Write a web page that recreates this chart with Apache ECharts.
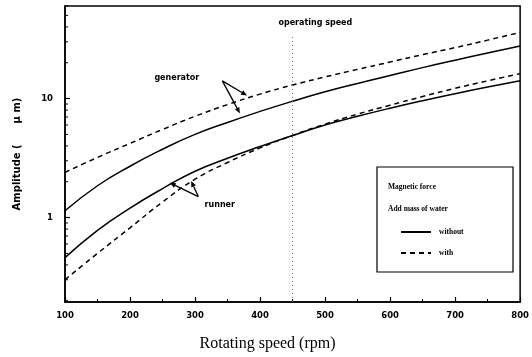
<!DOCTYPE html>
<html>
<head>
<meta charset="utf-8">
<script src="https://cdn.jsdelivr.net/npm/echarts@6/dist/echarts.min.js"></script>
<style>
html, body { margin: 0; padding: 0; background: #fff; }
#chart { width: 532px; height: 357px; }
</style>
</head>
<body>
<div id="chart"></div>
<script>
// rotating speed (rpm)
var speeds = [100, 150, 200, 250, 300, 350, 400, 450, 500, 550, 600, 650, 700, 750, 800];
// amplitude (um), magnetic force, without / with added mass of water
var generatorWithout = [1.14, 1.85, 2.7, 3.75, 5.0, 6.3, 7.8, 9.5, 11.4, 13.4, 15.6, 18.2, 21, 24.2, 27.7];
var generatorWith    = [2.4, 3.2, 4.2, 5.5, 7.1, 8.9, 10.9, 13.0, 15.2, 17.6, 20.3, 23.4, 26.8, 31, 36];
var runnerWithout    = [0.46, 0.78, 1.2, 1.75, 2.45, 3.15, 3.95, 4.9, 6.0, 7.1, 8.3, 9.6, 11, 12.5, 14.1];
var runnerWith       = [0.3, 0.5, 0.82, 1.35, 2.1, 2.9, 3.85, 4.9, 6.1, 7.4, 8.8, 10.4, 12.2, 14.1, 16.2];
var operatingSpeed = 450;
var yMinor = [0.2, 0.3, 0.4, 0.5, 0.6, 0.7, 0.8, 0.9, 2, 3, 4, 5, 6, 7, 8, 9, 20, 30, 40, 50, 60];

function pairs(ys) {
    return speeds.map(function (x, i) { return [x, ys[i]]; });
}

var chart = echarts.init(document.getElementById('chart'));
var labelFont = {color: '#000', fontFamily: 'DejaVu Sans', fontWeight: 'bold', fontSize: 8.5};

function lineSeries(name, ys, dashed) {
    return {
        name: name,
        type: 'line',
        data: pairs(ys),
        smooth: true,
        symbol: 'none',
        silent: true,
        itemStyle: {color: '#000'},
        lineStyle: {color: '#000', width: 1.5, type: dashed ? [5, 4] : 'solid'}
    };
}

var series = [
    lineSeries('without', generatorWithout, false),
    lineSeries('with', generatorWith, true),
    lineSeries('without', runnerWithout, false),
    lineSeries('with', runnerWith, true)
];
series[0].markLine = {
    silent: true,
    symbol: 'none',
    label: {show: false},
    lineStyle: {color: '#666', type: [1, 3], width: 1},
    data: [[{coord: [operatingSpeed, 33]}, {coord: [operatingSpeed, 0.195]}]]
};

chart.setOption({
    animation: false,
    backgroundColor: '#fff',
    grid: {left: 65, right: 8, top: 6, bottom: 52, show: true, borderColor: '#000', borderWidth: 1.5},
    legend: {
        data: ['without', 'with'],
        orient: 'vertical',
        left: 400,
        top: 228,
        padding: 0,
        itemWidth: 30,
        itemHeight: 10,
        itemGap: 13,
        selectedMode: false,
        itemStyle: {opacity: 0},
        textStyle: {color: '#000', fontFamily: 'Liberation Serif', fontWeight: 'bold', fontSize: 7.5, padding: [0, 0, 0, 3]}
    },
    xAxis: {
        type: 'value',
        min: 100,
        max: 800,
        interval: 100,
        name: 'Rotating speed (rpm)',
        nameLocation: 'middle',
        nameGap: 34,
        nameTextStyle: {color: '#000', fontFamily: 'Liberation Serif', fontSize: 16, padding: [0, 50, 0, 0]},
        axisLine: {lineStyle: {color: '#000', width: 1.5}},
        axisTick: {inside: true, length: 5, lineStyle: {color: '#000', width: 1.2}},
        minorTick: {show: true, splitNumber: 2, length: 3, lineStyle: {color: '#000'}},
        axisLabel: Object.assign({margin: 9}, labelFont),
        splitLine: {show: false}
    },
    yAxis: {
        type: 'log',
        logBase: 10,
        min: 0.195,
        max: 60,
        name: 'Amplitude (      \u03bc m)',
        nameLocation: 'middle',
        nameGap: 43,
        nameTextStyle: {color: '#000', fontFamily: 'DejaVu Sans', fontWeight: 'bold', fontSize: 10},
        axisLine: {lineStyle: {color: '#000', width: 1.5}},
        axisTick: {inside: true, length: 5, lineStyle: {color: '#000', width: 1.2}},
        axisLabel: Object.assign({margin: 12, showMinLabel: false, showMaxLabel: false}, labelFont),
        splitLine: {show: false}
    },
    series: series
});

// annotations: minor log ticks, arrows, texts, legend frame
var graphics = [];
var x0 = chart.convertToPixel({xAxisIndex: 0}, 100);
yMinor.forEach(function (v) {
    var y = chart.convertToPixel({yAxisIndex: 0}, v);
    graphics.push({type: 'line', silent: true, shape: {x1: x0, y1: y, x2: x0 + 3, y2: y}, style: {stroke: '#000', lineWidth: 1}});
});

function px(p) { return chart.convertToPixel({gridIndex: 0}, p); }

function arrow(from, to) {
    var a = px(from), b = px(to);
    var dx = b[0] - a[0], dy = b[1] - a[1];
    var len = Math.sqrt(dx * dx + dy * dy);
    var ux = dx / len, uy = dy / len;
    var hl = 6, hw = 2.5;
    var bx = b[0] - ux * hl, by = b[1] - uy * hl;
    graphics.push({type: 'line', silent: true, shape: {x1: a[0], y1: a[1], x2: bx, y2: by}, style: {stroke: '#000', lineWidth: 1.3}});
    graphics.push({type: 'polygon', silent: true, shape: {points: [[b[0], b[1]], [bx - uy * hw, by + ux * hw], [bx + uy * hw, by - ux * hw]]}, style: {fill: '#000'}});
}

arrow([342, 14.1], [380, 10.6]);
arrow([342, 14.1], [369, 7.5]);
arrow([305, 1.5], [261, 1.96]);
arrow([305, 1.5], [294, 2.03]);

function note(text, p, font) {
    var q = px(p);
    graphics.push({type: 'text', silent: true, x: q[0], y: q[1], style: {text: text, fill: '#000', font: font, align: 'center', verticalAlign: 'middle'}});
}
var noteFont = 'bold 8px "DejaVu Sans"';
note('generator', [272, 15], noteFont);
note('runner', [338, 1.28], noteFont);
note('operating speed', [485, 43], noteFont);

var legendFont = 'bold 7.5px "Liberation Serif"';
graphics.push({type: 'rect', silent: true, shape: {x: 377, y: 167, width: 136, height: 105}, style: {fill: '#fff', stroke: '#000', lineWidth: 1.2}, z: -1});
graphics.push({type: 'text', silent: true, x: 388, y: 187, style: {text: 'Magnetic force', fill: '#000', font: legendFont, verticalAlign: 'middle'}});
graphics.push({type: 'text', silent: true, x: 388, y: 209, style: {text: 'Add mass of water', fill: '#000', font: legendFont, verticalAlign: 'middle'}});

chart.setOption({graphic: graphics});
</script>
</body>
</html>
